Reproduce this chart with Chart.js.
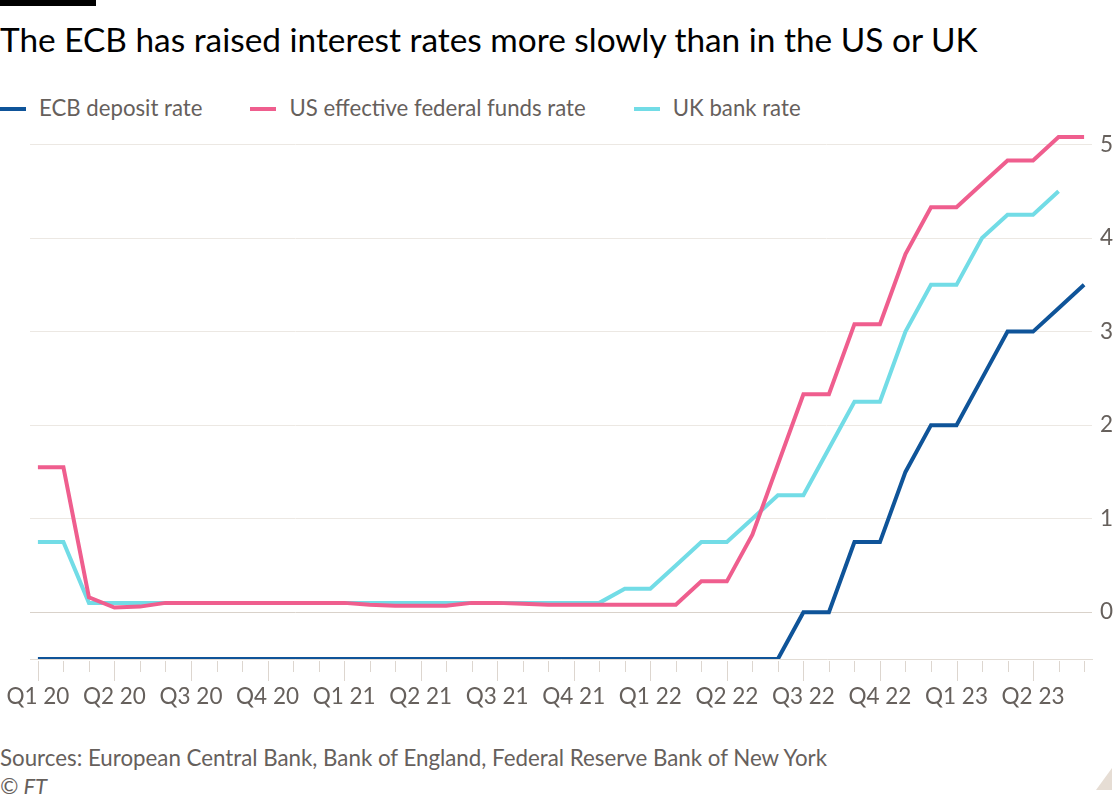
<!DOCTYPE html>
<html>
<head>
<meta charset="utf-8">
<script src="https://cdn.jsdelivr.net/npm/chart.js@4"></script>
<style>
  body { margin:0; background:#fff; width:1120px; height:800px; position:relative; overflow:hidden; font-family:Lato, "Open Sans", sans-serif; }
  .bar { position:absolute; left:0; top:0; width:96px; height:6px; background:#000; }
  .title { position:absolute; left:0; top:19px; font-size:33.4px; color:#000; white-space:nowrap; }
  .legend { position:absolute; left:0; top:94px; font-size:22.2px; color:#66605c; white-space:nowrap; }
  .legend span.item { display:inline-block; margin-right:48px; }
  .legend span.key { display:inline-block; width:26px; height:4px; vertical-align:middle; margin-right:13px; position:relative; top:-1px; }
  .wrap { position:absolute; left:0; top:109px; width:1120px; height:611px; }
  .source { position:absolute; left:0; top:744px; font-size:22.3px; color:#66605c; white-space:nowrap; }
  .copy { position:absolute; left:0; top:772px; font-size:22px; color:#66605c; font-style:italic; }
  .corner { position:absolute; right:8px; bottom:10px; width:0; height:0; border-left:16px solid transparent; border-bottom:22px solid #e6ddd4; }
</style>
</head>
<body>
<div class="bar"></div>
<div class="title">The ECB has raised interest rates more slowly than in the US or UK</div>
<div class="legend" id="legend"></div>
<div class="wrap"><canvas id="chart"></canvas></div>
<div class="source">Sources: European Central Bank, Bank of England, Federal Reserve Bank of New York</div>
<div class="copy">© FT</div>
<div class="corner"></div>
<script>
// monthly values, Jan 2020 to Jun 2023
const ecbDeposit = [
  -0.5, -0.5, -0.5, -0.5, -0.5, -0.5, -0.5, -0.5, -0.5, -0.5, -0.5, -0.5,
  -0.5, -0.5, -0.5, -0.5, -0.5, -0.5, -0.5, -0.5, -0.5, -0.5, -0.5, -0.5,
  -0.5, -0.5, -0.5, -0.5, -0.5, -0.5, 0, 0, 0.75, 0.75, 1.5, 2,
  2, 2.5, 3, 3, 3.25, 3.5
];
const usFedFunds = [
  1.55, 1.55, 0.16, 0.05, 0.06, 0.1, 0.1, 0.1, 0.1, 0.1, 0.1, 0.1,
  0.1, 0.08, 0.07, 0.07, 0.07, 0.1, 0.1, 0.09, 0.08, 0.08, 0.08, 0.08,
  0.08, 0.08, 0.33, 0.33, 0.83, 1.58, 2.33, 2.33, 3.08, 3.08, 3.83, 4.33,
  4.33, 4.58, 4.83, 4.83, 5.08, 5.08
];
const ukBankRate = [
  0.75, 0.75, 0.1, 0.1, 0.1, 0.1, 0.1, 0.1, 0.1, 0.1, 0.1, 0.1,
  0.1, 0.1, 0.1, 0.1, 0.1, 0.1, 0.1, 0.1, 0.1, 0.1, 0.1, 0.25,
  0.25, 0.5, 0.75, 0.75, 1, 1.25, 1.25, 1.75, 2.25, 2.25, 3, 3.5,
  3.5, 4, 4.25, 4.25, 4.5, null
];
const quarterLabels = ['Q1 20','Q2 20','Q3 20','Q4 20','Q1 21','Q2 21','Q3 21','Q4 21',
                       'Q1 22','Q2 22','Q3 22','Q4 22','Q1 23','Q2 23'];
const yTicks = [0, 1, 2, 3, 4, 5];

const seriesNames = ['ECB deposit rate', 'US effective federal funds rate', 'UK bank rate'];
const seriesColors = ['#0f5499', '#ef5e8e', '#72dce6'];

const legend = document.getElementById('legend');
seriesNames.forEach((n, i) => {
  legend.innerHTML += '<span class="item"><span class="key" style="background:' + seriesColors[i] + '"></span>' + n + '</span>';
});

const toPoints = arr => arr.map((v, i) => ({x: i, y: v}));
const monthCount = ecbDeposit.length;

// month ticks under the axis, longer at quarter starts
const tickMarks = {
  id: 'tickMarks',
  afterDraw(chart) {
    const xs = chart.scales.x, b = chart.chartArea.bottom, c = chart.ctx;
    c.save();
    c.strokeStyle = '#ddd6cf';
    c.lineWidth = 1;
    for (let i = 0; i < monthCount; i++) {
      const px = Math.round(xs.getPixelForValue(i)) + 0.5;
      const len = i % 3 === 0 ? 20 : 11;
      c.beginPath();
      c.moveTo(px, b + 2);
      c.lineTo(px, b + 2 + len);
      c.stroke();
    }
    c.restore();
  }
};

const datasets = [ecbDeposit, usFedFunds, ukBankRate].map((d, i) => ({
  label: seriesNames[i],
  data: toPoints(d),
  borderColor: seriesColors[i],
  backgroundColor: seriesColors[i],
  borderWidth: 4,
  pointRadius: 0,
  tension: 0,
  spanGaps: false
}));

new Chart(document.getElementById('chart'), {
  type: 'line',
  data: { datasets },
  plugins: [tickMarks],
  options: {
    responsive: true,
    maintainAspectRatio: false,
    animation: false,
    layout: { padding: { left: 30, top: 0, right: 0, bottom: 10 } },
    plugins: { legend: { display: false }, tooltip: { enabled: false } },
    scales: {
      x: {
        type: 'linear',
        min: -0.31,
        max: monthCount - 1 + 0.31,
        afterBuildTicks: s => { s.ticks = ecbDeposit.map((_, i) => ({value: i})); },
        grid: { display: true, drawOnChartArea: false, drawTicks: true, tickLength: 24, tickColor: 'rgba(0,0,0,0)' },
        border: { display: true, color: '#e2dcd5', width: 1 },
        ticks: {
          autoSkip: false, maxRotation: 0, padding: 0,
          color: '#66605c', font: { family: 'Lato', size: 22.5 },
          callback: v => (v % 3 === 0 ? quarterLabels[v / 3] : '')
        }
      },
      y: {
        position: 'right',
        min: -0.5,
        max: 5.15,
        afterBuildTicks: s => { s.ticks = yTicks.map(v => ({value: v})); },
        afterFit: s => { s.width = 28; },
        grid: {
          drawTicks: false,
          color: ctx => (ctx.tick && ctx.tick.value === 0 ? '#d9d2ca' : '#ece8e3'),
          lineWidth: 1
        },
        border: { display: false },
        ticks: { padding: 8, color: '#66605c', font: { family: 'Lato', size: 22.5 } }
      }
    }
  }
});
</script>
</body>
</html>
